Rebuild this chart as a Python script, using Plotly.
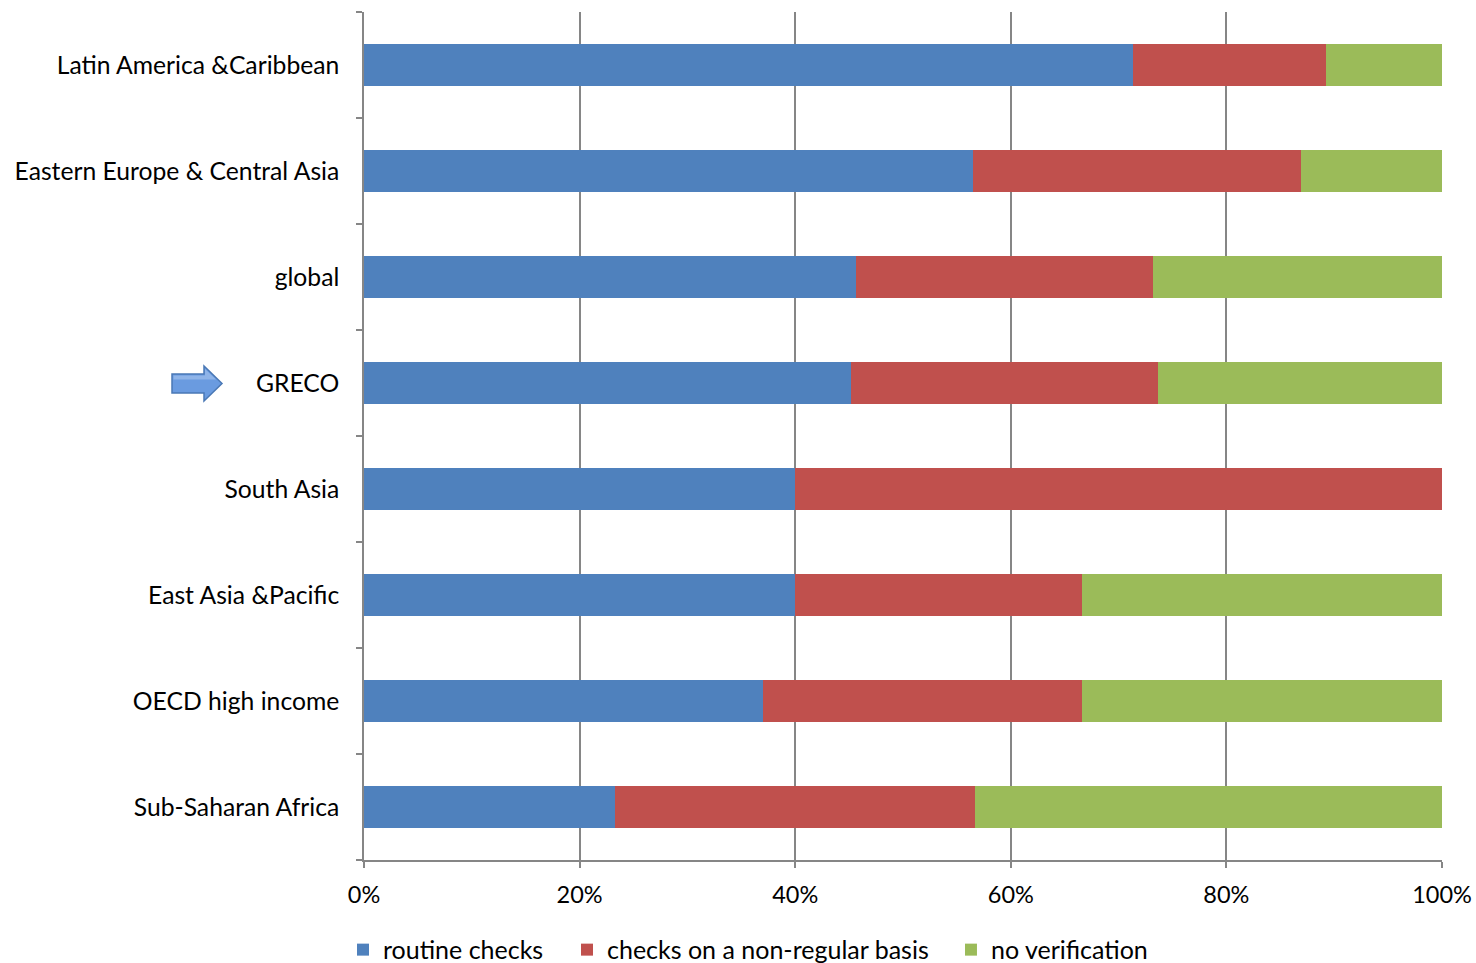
import plotly.graph_objects as go

categories = ["Latin America &Caribbean", "Eastern Europe & Central Asia", "global", "GRECO",
              "South Asia", "East Asia &Pacific", "OECD high income", "Sub-Saharan Africa"]
routine = [71.3, 56.5, 45.6, 45.2, 40.0, 40.0, 37.0, 23.3]
non_regular = [17.9, 30.4, 27.6, 28.5, 60.0, 26.6, 29.6, 33.4]
no_verif = [10.8, 13.1, 26.8, 26.3, 0.0, 33.4, 33.4, 43.3]

series = [("routine checks", routine, "#4F81BD"),
          ("checks on a non-regular basis", non_regular, "#C0504D"),
          ("no verification", no_verif, "#9BBB59")]
legend_ids = ["legend", "legend2", "legend3"]
legend_x = [-0.0195, 0.1883, 0.5445]

fig = go.Figure()
for (name, vals, col), lid in zip(series, legend_ids):
    fig.add_trace(go.Bar(
        y=categories, x=[v / 100 for v in vals], name=name, orientation="h",
        marker=dict(color=col, line=dict(width=0)), width=0.4, legend=lid,
    ))

FONT = "Lato, 'Open Sans', sans-serif"
W, H = 1476, 963
layout_legends = {}
for lid, lx in zip(legend_ids, legend_x):
    layout_legends[lid] = dict(orientation="h", x=lx, xanchor="left", y=-0.106, yanchor="middle",
                               font=dict(size=25), itemwidth=30, bgcolor="rgba(0,0,0,0)")

fig.update_layout(
    barmode="stack", barnorm="fraction",
    width=W, height=H,
    margin=dict(l=364, r=34, t=12, b=103, autoexpand=False),
    plot_bgcolor="white", paper_bgcolor="white",
    font=dict(family=FONT, size=25, color="#000000"),
    showlegend=True,
    xaxis=dict(range=[0, 1], dtick=0.2, tick0=0, tickformat=".0%",
               tickfont=dict(size=23.5),
               showgrid=True, gridcolor="#868686", gridwidth=1.5,
               showline=True, linecolor="#868686", linewidth=1.5,
               ticks="outside", ticklen=6, tickcolor="#868686", tickwidth=1.5,
               ticklabelstandoff=7, zeroline=False, fixedrange=True, automargin=False),
    yaxis=dict(categoryorder="array", categoryarray=categories[::-1],
               tickfont=dict(size=24.7),
               showgrid=False, showline=True, linecolor="#868686", linewidth=1.5,
               ticks="outside", ticklen=6, tickcolor="#868686", tickwidth=1.5,
               tickson="boundaries", ticklabelstandoff=18, fixedrange=True, automargin=False),
    **layout_legends,
)

# Arrow pointing at GRECO (page pixels -> paper coordinates)
def px(x):
    return (x - 364) / 1078

def py(y):
    return (860 - y) / 848

pts = [(172, 374), (204, 374), (204, 366), (222, 383.5), (204, 401), (204, 393), (172, 393)]
path = "M " + " L ".join(f"{px(x)},{py(y)}" for x, y in pts) + " Z"
fig.add_shape(type="path", path=path, xref="paper", yref="paper",
              fillcolor="#6A9BE0", line=dict(color="#4A78B5", width=1.5))
fig.add_shape(type="path",
              path="M " + " L ".join(f"{px(x)},{py(y)}" for x, y in [(173.5, 375.5), (205, 375.5), (205, 369), (216, 379.5), (173.5, 379.5)]) + " Z",
              xref="paper", yref="paper", fillcolor="rgba(255,255,255,0.25)", line=dict(width=0))

fig.write_html("out.html", config={"displayModeBar": False},
               post_script="document.body.style.margin='0';document.body.style.overflow='hidden';")
